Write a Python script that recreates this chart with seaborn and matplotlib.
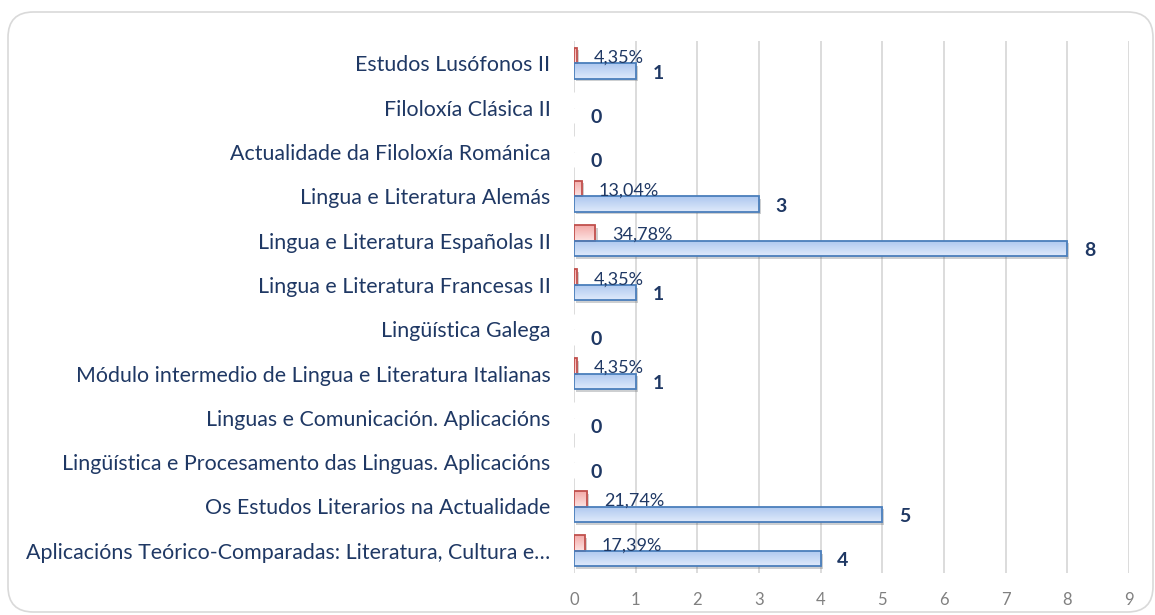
import numpy as np
import pandas as pd
import matplotlib.pyplot as plt
import seaborn as sns
from matplotlib.patches import FancyBboxPatch, Rectangle
from matplotlib.colors import LinearSegmentedColormap
import matplotlib.patheffects as pe

categories = [
    "Estudos Lusófonos II",
    "Filoloxía Clásica II",
    "Actualidade da Filoloxía Románica",
    "Lingua e Literatura Alemás",
    "Lingua e Literatura Españolas II",
    "Lingua e Literatura Francesas II",
    "Lingüística Galega",
    "Módulo intermedio de Lingua e Literatura Italianas",
    "Linguas e Comunicación. Aplicacións",
    "Lingüística e Procesamento das Linguas. Aplicacións",
    "Os Estudos Literarios na Actualidade",
    "Aplicacións Teórico-Comparadas: Literatura, Cultura e…",
]
counts = [1, 0, 0, 3, 8, 1, 0, 1, 0, 0, 5, 4]
percents = [4.35, 0, 0, 13.04, 34.78, 4.35, 0, 4.35, 0, 0, 21.74, 17.39]
x_ticks = list(range(10))

NAVY = "#1f3864"

sns.set_theme(style="white")
plt.rcParams["font.family"] = ["Lato", "DejaVu Sans"]

df = pd.concat([
    pd.DataFrame({"materia": categories, "serie": "pct", "valor": [p / 100 for p in percents]}),
    pd.DataFrame({"materia": categories, "serie": "n", "valor": counts}),
])

W, H = 1155, 615
fig = plt.figure(figsize=(W / 100, H / 100), dpi=100)
# rounded chart-area frame
fig.patches.append(FancyBboxPatch((8 / W, 3 / H), 1145 / W, 600 / H,
                                  boxstyle="round,pad=0,rounding_size=0.022",
                                  transform=fig.transFigure, facecolor="white",
                                  edgecolor="#d9d9d9", linewidth=1.2, zorder=-10,
                                  mutation_aspect=W / H))
ax = fig.add_axes([574 / W, 1 - 573 / H, 555 / W, 532 / H])
ax.patch.set_alpha(0)

sns.barplot(data=df, x="valor", y="materia", hue="serie", hue_order=["pct", "n"],
            orient="h", width=0.7, dodge=True, ax=ax, legend=False,
            palette={"pct": "#f7c6c5", "n": "#c6d9f3"}, saturation=1)

ax.set_xlim(0, 9)
ax.set_xticks(x_ticks)
ax.set_xlabel("")
ax.set_ylabel("")
ax.grid(axis="x", color="#d9d9d9", linewidth=1.3)
ax.set_axisbelow(True)
for s in ax.spines.values():
    s.set_visible(False)
ax.tick_params(axis="x", length=0, pad=14, labelsize=12, labelcolor="#808080")
ax.tick_params(axis="y", length=0, pad=17, labelsize=15.4, labelcolor=NAVY)

blue_cmap = LinearSegmentedColormap.from_list("b", ["#adc7ef", "#dfeafb"])
red_cmap = LinearSegmentedColormap.from_list("r", ["#f3aaa8", "#fde3e2"])
grad = np.linspace(0, 1, 64).reshape(-1, 1)

n = len(categories)
pct_bars = ax.containers[0]
cnt_bars = ax.containers[1]
for bars, cmap, edge, vals, kind in [(pct_bars, red_cmap, "#c0504d", percents, "pct"),
                                     (cnt_bars, blue_cmap, "#4a7ebb", counts, "n")]:
    for bar, v in zip(bars, vals):
        x0, y0 = bar.get_x(), bar.get_y()
        w, h = bar.get_width(), bar.get_height()
        if w > 0:
            bar.set_edgecolor("none")
            bar.set_path_effects([pe.SimplePatchShadow(offset=(1.5, -2), alpha=0.25), pe.Normal()])
            im = ax.imshow(grad, cmap=cmap, aspect="auto", extent=(x0, x0 + w, y0 + h, y0),
                           zorder=2.1, interpolation="bicubic")
            im.set_clip_path(bar)
            ax.add_patch(Rectangle((x0, y0), w, h, fill=False, edgecolor=edge,
                                   linewidth=1.3, zorder=2.2))
        cy = y0 + h / 2
        if kind == "pct":
            if v > 0:
                ax.annotate(f"{v:.2f}%".replace(".", ","), (w, cy), xytext=(12, -1.5),
                            textcoords="offset points", ha="left", va="center",
                            fontsize=13, color=NAVY, zorder=3)
        else:
            ax.annotate(f"{v}", (w, cy), xytext=(12, -1.5),
                        textcoords="offset points", ha="left", va="center",
                        fontsize=14, fontweight="bold", color=NAVY, zorder=3)

ax.set_ylim(n - 0.5, -0.5)
ax.set_xlim(0, 9)

fig.savefig("out.png", dpi=100)
